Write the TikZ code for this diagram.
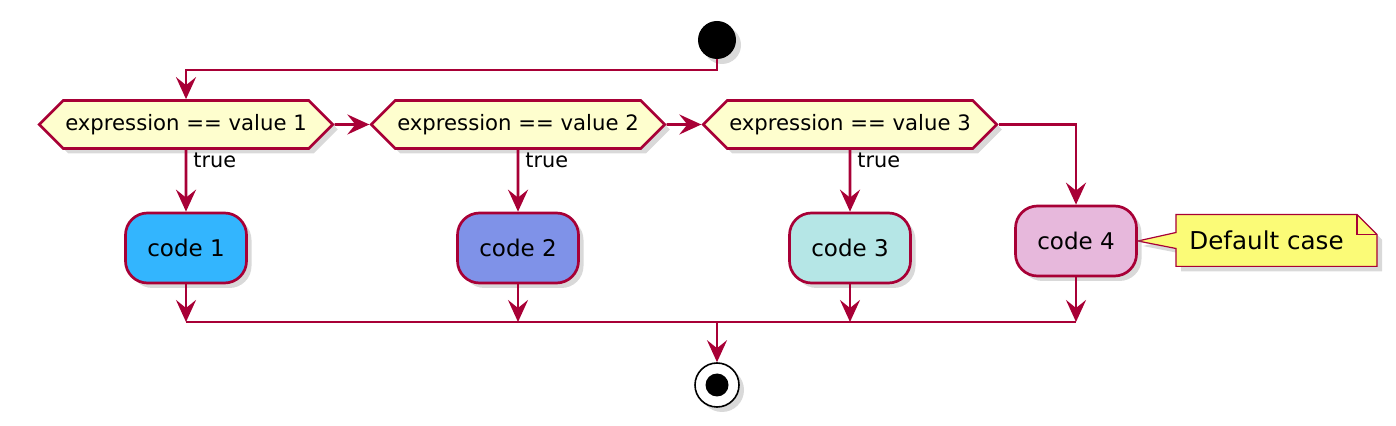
\documentclass[tikz,border=0pt]{standalone}
\usepackage{fontspec}
\setmainfont{DejaVu Sans}
\usetikzlibrary{arrows.meta,shapes.symbols,shadows,backgrounds}
\definecolor{plrot}{HTML}{A80036}
\definecolor{plgelb}{HTML}{FEFECE}
\definecolor{notizgelb}{HTML}{FBFB77}
\definecolor{farbeA}{HTML}{33B5FE}
\definecolor{farbeB}{HTML}{7F92E8}
\definecolor{farbeC}{HTML}{B5E6E6}
\definecolor{farbeD}{HTML}{E7B8DC}

\begin{document}
\begin{tikzpicture}[x=0.5pt,y=-0.5pt,
    linie/.style={line width=1.35pt,draw=plrot},
    pfeil/.style={linie,-{Stealth[length=11pt,width=10pt,inset=4pt]}},
    schatten/.style={drop shadow={shadow xshift=2.5pt,shadow yshift=-2.5pt,opacity=0.3}},
    frage/.style={signal,signal to=west and east,signal pointer angle=90,draw=plrot,line width=1.35pt,fill=plgelb,minimum height=24pt,inner xsep=1pt,font=\fontsize{10.6}{12}\selectfont,schatten},
    codebox/.style={rectangle,rounded corners=11pt,draw=plrot,line width=1.35pt,minimum width=60.5pt,minimum height=35pt,font=\fontsize{11.5}{13}\selectfont,schatten},
    wahr/.style={font=\fontsize{10.4}{12}\selectfont,inner sep=1pt,anchor=north west,xshift=2pt},
    notiz/.style={inner xsep=6.5pt,inner ysep=0pt,minimum height=25.5pt,anchor=west,font=\fontsize{12.3}{14}\selectfont}]
    \useasboundingbox (0,0) rectangle (1396,426);
    % Start
    \node[circle,fill=black,minimum size=19pt,inner sep=0pt,schatten] (start) at (717,40) {};
    % Abfragen
    \node[frage] (f1) at (186,124.5) {expression == value 1};
    \node[frage] (f2) at (518,124.5) {expression == value 2};
    \node[frage] (f3) at (850,124.5) {expression == value 3};
    % Faelle
    \node[codebox,fill=farbeA] (c1) at (186,248) {code 1};
    \node[codebox,fill=farbeB] (c2) at (518,248) {code 2};
    \node[codebox,fill=farbeC] (c3) at (850,248) {code 3};
    \node[codebox,fill=farbeD] (c4) at (1076,241) {code 4};
    % Notiz
    \node[notiz] (n) at (1176,240.5) {Default case};
    \begin{scope}[on background layer]
        \draw[linie,line width=0.6pt,fill=notizgelb,schatten](n.north west)--(n.north east)--([xshift=10pt,yshift=-10pt]n.north east)--([xshift=10pt]n.south east)--(n.south west)--([yshift=-4pt]n.west)--(c4.east)--([yshift=4pt]n.west)--cycle;
        \draw[linie,line width=0.6pt](n.north east)|-([xshift=10pt,yshift=-10pt]n.north east);
    \end{scope}
    % Ende
    \node[circle,draw=black,line width=0.8pt,fill=white,minimum size=22pt,inner sep=0pt,schatten,
        path picture={\fill[black](path picture bounding box.center) circle (5.75pt);}] (ende) at (717,385) {};
    % Knicke
    \coordinate (k0) at (717,70);
    \coordinate (m1) at (186,322);
    \coordinate (m2) at (518,322);
    \coordinate (m3) at (850,322);
    \coordinate (m4) at (1076,322);
    \coordinate (mm) at (717,322);
    % Verbindungen
    \draw[pfeil](start)--(k0)-|(f1);
    \draw[pfeil](f1)--(f2);
    \draw[pfeil](f2)--(f3);
    \draw[pfeil](f3)-|(c4);
    \draw[pfeil](f1)--node[wahr,pos=0]{true}(c1);
    \draw[pfeil](f2)--node[wahr,pos=0]{true}(c2);
    \draw[pfeil](f3)--node[wahr,pos=0]{true}(c3);
    \draw[pfeil](c1)--(m1);
    \draw[pfeil](c2)--(m2);
    \draw[pfeil](c3)--(m3);
    \draw[pfeil](c4)--(m4);
    \draw[linie](m1)--(m4);
    \draw[pfeil](mm)--(ende);
\end{tikzpicture}
\end{document}
